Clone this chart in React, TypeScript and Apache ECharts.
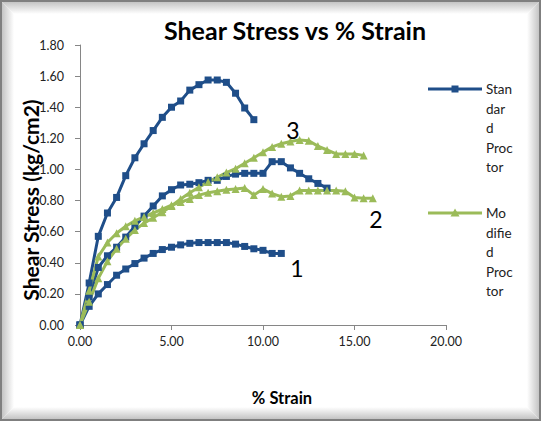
import React, { useEffect, useRef } from "react";
import * as echarts from "echarts";

const xTicks = [0, 5, 10, 15, 20];
const yTicks = [0, 0.2, 0.4, 0.6, 0.8, 1.0, 1.2, 1.4, 1.6, 1.8];

// Standard Proctor curves (blue)
const stdHighX = [0, 0.5, 1, 1.5, 2, 2.5, 3, 3.5, 4, 4.5, 5, 5.5, 6, 6.5, 7, 7.5, 8, 8.5, 9, 9.5];
const stdHighY = [0, 0.27, 0.57, 0.72, 0.82, 0.96, 1.075, 1.165, 1.25, 1.335, 1.4, 1.44, 1.51, 1.545, 1.575, 1.575, 1.56, 1.49, 1.395, 1.32];

const stdMidX = [0, 0.5, 1, 1.5, 2, 2.5, 3, 3.5, 4, 4.5, 5, 5.5, 6, 6.5, 7, 7.5, 8, 8.5, 9, 9.5, 10, 10.5, 11, 11.5, 12, 12.5, 13, 13.5];
const stdMidY = [0, 0.18, 0.37, 0.445, 0.5, 0.565, 0.635, 0.7, 0.765, 0.83, 0.87, 0.9, 0.905, 0.915, 0.93, 0.93, 0.955, 0.97, 0.975, 0.975, 0.975, 1.05, 1.05, 1.01, 0.975, 0.94, 0.91, 0.88];

const stdLowX = [0, 0.5, 1, 1.5, 2, 2.5, 3, 3.5, 4, 4.5, 5, 5.5, 6, 6.5, 7, 7.5, 8, 8.5, 9, 9.5, 10, 10.5, 11];
const stdLowY = [0, 0.12, 0.2, 0.26, 0.32, 0.36, 0.395, 0.43, 0.46, 0.485, 0.5, 0.515, 0.525, 0.53, 0.53, 0.53, 0.53, 0.52, 0.505, 0.49, 0.48, 0.46, 0.46];

// Modified Proctor curves (green)
const modHighX = [0, 0.5, 1, 1.5, 2, 2.5, 3, 3.5, 4, 4.5, 5, 5.5, 6, 6.5, 7, 7.5, 8, 8.5, 9, 9.5, 10, 10.5, 11, 11.5, 12, 12.5, 13, 13.5, 14, 14.5, 15, 15.5];
const modHighY = [0, 0.15, 0.3, 0.41, 0.49, 0.555, 0.61, 0.655, 0.69, 0.725, 0.765, 0.81, 0.85, 0.885, 0.92, 0.95, 0.98, 1.005, 1.04, 1.075, 1.11, 1.145, 1.165, 1.18, 1.19, 1.185, 1.15, 1.125, 1.1, 1.1, 1.1, 1.09];

const modLowX = [0, 0.5, 1, 1.5, 2, 2.5, 3, 3.5, 4, 4.5, 5, 5.5, 6, 6.5, 7, 7.5, 8, 8.5, 9, 9.5, 10, 10.5, 11, 11.5, 12, 12.5, 13, 13.5, 14, 14.5, 15, 15.5, 16];
const modLowY = [0, 0.22, 0.44, 0.53, 0.59, 0.635, 0.67, 0.695, 0.72, 0.745, 0.77, 0.79, 0.81, 0.835, 0.85, 0.86, 0.87, 0.875, 0.88, 0.835, 0.875, 0.845, 0.825, 0.83, 0.865, 0.865, 0.865, 0.865, 0.865, 0.86, 0.82, 0.815, 0.815];

const legendNames = ["Standard Proctor", "Modified Proctor"];
const legendLines = [["Stan", "dar", "d", "Proc", "tor"], ["Mo", "difie", "d", "Proc", "tor"]];
const curveLabels = ["1", "2", "3"];

const BLUE = "#1F4E89";
const GREEN = "#9BBB59";
const FONT = "Lato, 'Open Sans', sans-serif";

function zip(xs: number[], ys: number[]) {
  return xs.map((x, i) => [x, ys[i]]);
}

function lineSeries(name: string, xs: number[], ys: number[], color: string, symbol: string) {
  return {
    name,
    type: "line",
    data: zip(xs, ys),
    symbol,
    symbolSize: symbol === "rect" ? 7 : 8,
    lineStyle: { color, width: 3 },
    itemStyle: { color },
    z: 3,
  };
}

export default function App() {
  const ref = useRef<HTMLDivElement>(null);
  useEffect(() => {
    if (!ref.current) return;
    const chart = echarts.init(ref.current, null, { renderer: "svg" });
    const W = 541, H = 421, B = 12;
    const grad = (x: number, y: number, x2: number, y2: number) => ({
      type: "linear", x, y, x2, y2,
      colorStops: [{ offset: 0, color: "#c4c4c4" }, { offset: 1, color: "#ffffff" }],
    });
    const legendGraphic: any[] = [];
    const legendY = [89, 213];
    [BLUE, GREEN].forEach((c, i) => {
      legendGraphic.push({ type: "line", shape: { x1: 428, y1: legendY[i], x2: 482, y2: legendY[i] }, style: { stroke: c, lineWidth: 3 }, z: 10 });
      if (i === 0) legendGraphic.push({ type: "rect", shape: { x: 451.5, y: legendY[i] - 3.5, width: 7, height: 7 }, style: { fill: c }, z: 10 });
      else legendGraphic.push({ type: "polygon", shape: { points: [[455, legendY[i] - 4.5], [459.5, legendY[i] + 3.5], [450.5, legendY[i] + 3.5]] }, style: { fill: c }, z: 10 });
      legendGraphic.push({
        type: "text", x: 486, y: legendY[i] - 9.75, z: 10,
        style: { text: legendLines[i].join("\n"), font: `13.5px ${FONT}`, fill: "#222", lineHeight: 19.5, verticalAlign: "top", align: "left" },
      });
    });
    chart.setOption({
      animation: false,
      backgroundColor: "#ffffff",
      title: {
        text: "Shear Stress vs % Strain",
        left: 290, top: 12, textAlign: "center",
        textStyle: { fontFamily: FONT, fontWeight: "bold", fontSize: 25, color: "#000" },
      },
      grid: { left: 80, right: 95, top: 45, bottom: 96 },
      xAxis: {
        type: "value", min: 0, max: 20, interval: 5,
        axisLine: { show: true, lineStyle: { color: "#868686", width: 1 } },
        axisTick: { show: true, length: 5, lineStyle: { color: "#868686" } },
        splitLine: { show: false },
        axisLabel: { margin: 10, fontFamily: FONT, fontSize: 12.5, color: "#222", formatter: (v: number) => v.toFixed(2) },
      },
      yAxis: {
        type: "value", min: 0, max: 1.8, interval: 0.2,
        axisLine: { show: true, lineStyle: { color: "#868686", width: 1 } },
        axisTick: { show: true, length: 5, lineStyle: { color: "#868686" } },
        splitLine: { show: false },
        axisLabel: { margin: 16, fontFamily: FONT, fontSize: 12.5, color: "#222", formatter: (v: number) => v.toFixed(2) },
      },
      legend: { show: false, data: legendNames },
      series: [
        lineSeries(legendNames[0], stdHighX, stdHighY, BLUE, "rect"),
        lineSeries(legendNames[0] + " 2", stdMidX, stdMidY, BLUE, "rect"),
        lineSeries(legendNames[0] + " 1", stdLowX, stdLowY, BLUE, "rect"),
        lineSeries(legendNames[1] + " 3", modHighX, modHighY, GREEN, "triangle"),
        lineSeries(legendNames[1], modLowX, modLowY, GREEN, "triangle"),
      ],
      graphic: [
        { type: "rect", shape: { x: 1, y: 1, width: W - 2, height: H - 2 }, style: { fill: "#fff", stroke: "#7f7f7f", lineWidth: 2 }, z: -10, silent: true },
        { type: "polygon", shape: { points: [[2, 2], [W - 2, 2], [W - 2 - B, 2 + B], [2 + B, 2 + B]] }, style: { fill: grad(0, 0, 0, 1) }, z: -9 },
        { type: "polygon", shape: { points: [[2, 2], [2 + B, 2 + B], [2 + B, H - 2 - B], [2, H - 2]] }, style: { fill: grad(0, 0, 1, 0) }, z: -9 },
        { type: "polygon", shape: { points: [[W - 2, 2], [W - 2, H - 2], [W - 2 - B, H - 2 - B], [W - 2 - B, 2 + B]] }, style: { fill: grad(1, 0, 0, 0) }, z: -9 },
        { type: "polygon", shape: { points: [[2, H - 2], [W - 2, H - 2], [W - 2 - B, H - 2 - B], [2 + B, H - 2 - B]] }, style: { fill: grad(0, 1, 0, 0) }, z: -9 },
        {
          type: "text", x: 30, y: 200, rotation: Math.PI / 2, z: 10,
          style: { text: "Shear Stress (kg/cm2)", font: `bold 21px ${FONT}`, fill: "#000", align: "center", verticalAlign: "middle" },
        },
        {
          type: "text", x: 282, y: 398, z: 10,
          style: { text: "% Strain", font: `bold 16.5px ${FONT}`, fill: "#000", align: "center", verticalAlign: "middle" },
        },
        { type: "text", x: 297, y: 268, z: 10, style: { text: curveLabels[0], font: `23px ${FONT}`, fill: "#000", align: "center", verticalAlign: "middle" } },
        { type: "text", x: 376, y: 219, z: 10, style: { text: curveLabels[1], font: `23px ${FONT}`, fill: "#000", align: "center", verticalAlign: "middle" } },
        { type: "text", x: 293, y: 130, z: 10, style: { text: curveLabels[2], font: `23px ${FONT}`, fill: "#000", align: "center", verticalAlign: "middle" } },
        ...legendGraphic,
      ],
    });
    return () => chart.dispose();
  }, []);
  return <div ref={ref} style={{ width: 541, height: 421, position: "absolute", left: 0, top: 0 }} />;
}
